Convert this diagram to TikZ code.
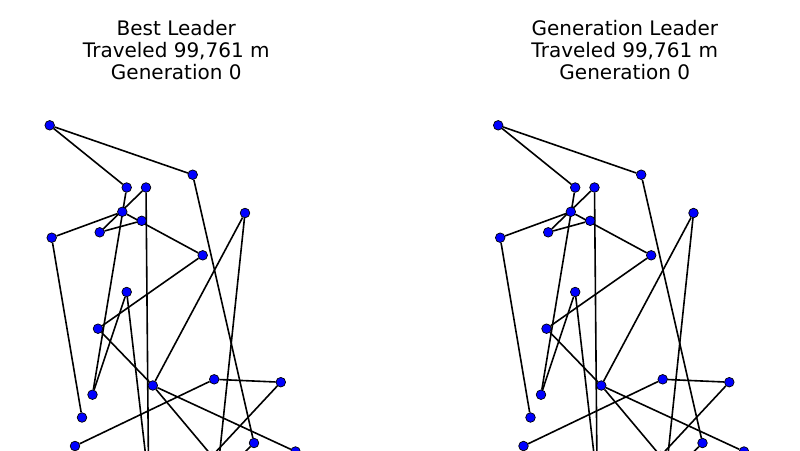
\documentclass[tikz,border=0pt]{standalone}
\usepackage{fontspec}
\setmainfont{DejaVu Sans}
\usetikzlibrary{backgrounds}
\tikzset{
  city/.style={circle, draw=black, fill=blue, line width=0.7pt, inner sep=0pt, minimum size=9.6pt},
  road/.style={draw=black, line width=1.6pt},
  ttl/.style={align=center, font=\fontsize{20}{22.2}\selectfont, anchor=north, inner sep=0pt},
}
\newcommand\tourplot[3]{% #1 prefix, #2 xshift, #3 title
 \begin{scope}[xshift=#2]
  \node[ttl] (#1title) at (176.3,19.8) {#3\\Traveled 99,761 m\\Generation 0};
  \begin{scope}
  \clip (-500,0) rectangle (400,450);
  \node[city] (#1A) at (49.7,125.3) {};
  \node[city] (#1B) at (192.7,174.7) {};
  \node[city] (#1C) at (126.7,187.5) {};
  \node[city] (#1D) at (146,187.5) {};
  \node[city] (#1E) at (122.3,211.8) {};
  \node[city] (#1F) at (141.7,220.8) {};
  \node[city] (#1G) at (99.7,232.3) {};
  \node[city] (#1H) at (51.7,237.7) {};
  \node[city] (#1I) at (202.7,255.3) {};
  \node[city] (#1J) at (245,213) {};
  \node[city] (#1K) at (126.7,292) {};
  \node[city] (#1L) at (98,328.7) {};
  \node[city] (#1M) at (152.8,385.5) {};
  \node[city] (#1N) at (214.2,379.3) {};
  \node[city] (#1O) at (280.8,382.2) {};
  \node[city] (#1P) at (92.5,394.7) {};
  \node[city] (#1Q) at (82,417.5) {};
  \node[city] (#1R) at (75,446) {};
  \node[city] (#1S) at (254,443) {};
  \node[city] (#1T) at (295.5,451.5) {};
  \node[city] (#1U) at (148.6,481) {};
  \node[city] (#1V) at (212,456) {};
  \node[city] (#1W) at (214.7,500) {};
  \node[city] (#1X) at (234,463) {};
  \end{scope}
  \begin{pgfonlayer}{background}
   \begin{scope}
   \clip (-500,0) rectangle (400,450);
   \draw[road] (#1A) -- (#1B);
   \draw[road] (#1A) -- (#1C);
   \draw[road] (#1B) -- (#1S);
   \draw[road] (#1C) -- (#1P);
   \draw[road] (#1D) -- (#1G);
   \draw[road] (#1D) -- (#1U);
   \draw[road] (#1K) -- (#1U);
   \draw[road] (#1H) -- (#1E);
   \draw[road] (#1E) -- (#1I);
   \draw[road] (#1G) -- (#1F);
   \draw[road] (#1H) -- (#1Q);
   \draw[road] (#1J) -- (#1M);
   \draw[road] (#1J) -- (#1W);
   \draw[road] (#1I) -- (#1L);
   \draw[road] (#1K) -- (#1P);
   \draw[road] (#1L) -- (#1M);
   \draw[road] (#1M) -- (#1V);
   \draw[road] (#1O) -- (#1V);
   \draw[road] (#1M) -- (#1T);
   \draw[road] (#1N) -- (#1R);
   \draw[road] (#1N) -- (#1O);
   \draw[road] (#1S) -- (#1X);
   \end{scope}
  \end{pgfonlayer}
 \end{scope}
}
\begin{document}
\begin{tikzpicture}[x=1pt,y=-1pt]
\useasboundingbox (0,0) rectangle (800,450);
\tourplot{l}{0pt}{Best Leader}
\tourplot{r}{448.5pt}{Generation Leader}
\end{tikzpicture}
\end{document}
